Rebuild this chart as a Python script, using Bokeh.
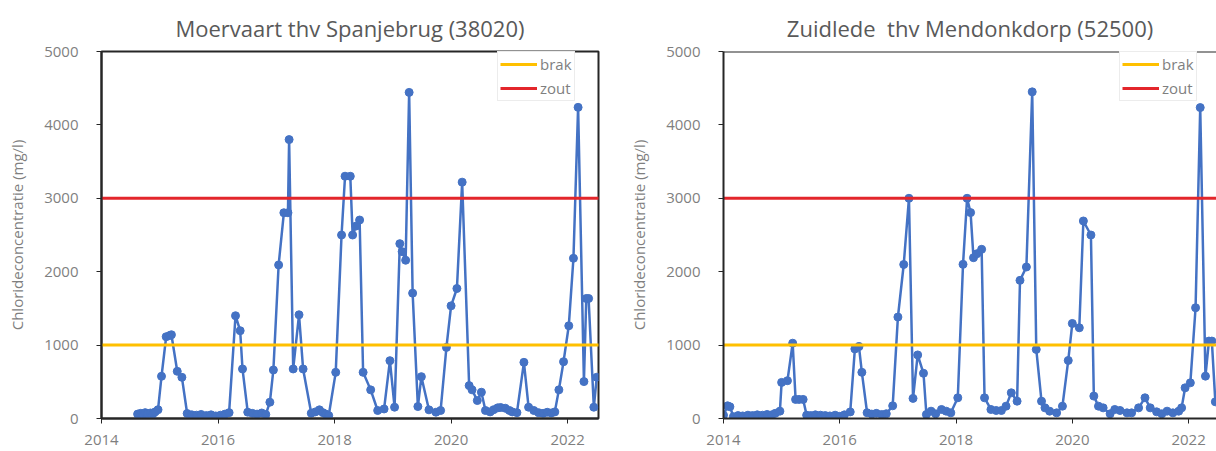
from bokeh.plotting import figure
from bokeh.layouts import row
from bokeh.models import Range1d, FixedTicker, Span, Legend, LegendItem, CustomJSTickFormatter
from bokeh.embed import file_html
from bokeh.resources import INLINE

# ---------------- data ----------------
left_title = "Moervaart thv Spanjebrug (38020)"
right_title = "Zuidlede\u00a0 thv Mendonkdorp (52500)"
y_label = "Chlorideconcentratie (mg/l)"

left_years = [2014.62, 2014.67, 2014.71, 2014.75, 2014.79, 2014.84, 2014.88, 2014.92, 2014.97,
              2015.03, 2015.11, 2015.17, 2015.20, 2015.30, 2015.38, 2015.47, 2015.55, 2015.63,
              2015.71, 2015.80, 2015.88, 2015.96, 2016.04, 2016.12, 2016.19, 2016.30, 2016.38,
              2016.42, 2016.51, 2016.59, 2016.67, 2016.75, 2016.82, 2016.89, 2016.95, 2017.04,
              2017.13, 2017.20, 2017.22, 2017.29, 2017.39, 2017.46, 2017.60, 2017.67, 2017.74,
              2017.80, 2017.85, 2017.90, 2018.02, 2018.12, 2018.18, 2018.27, 2018.31, 2018.37,
              2018.43, 2018.49, 2018.62, 2018.74, 2018.85, 2018.95, 2019.03, 2019.12, 2019.16,
              2019.22, 2019.28, 2019.34, 2019.43, 2019.49, 2019.62, 2019.74, 2019.82, 2019.92,
              2020.00, 2020.10, 2020.19, 2020.31, 2020.36, 2020.45, 2020.52, 2020.59, 2020.67,
              2020.73, 2020.80, 2020.85, 2020.93, 2021.00, 2021.05, 2021.13, 2021.25, 2021.33,
              2021.42, 2021.50, 2021.58, 2021.65, 2021.72, 2021.78, 2021.85, 2021.93, 2022.02,
              2022.10, 2022.18, 2022.28, 2022.32, 2022.36, 2022.45, 2022.50]
left_values = [60, 70, 55, 80, 65, 75, 60, 90, 120,
               575, 1114, 1130, 1141, 643, 561, 68, 50, 45,
               55, 40, 50, 35, 45, 60, 80, 1400, 1196,
               675, 86, 70, 60, 75, 55, 222, 661, 2092,
               2803, 2803, 3800, 675, 1413, 675, 72, 90, 118,
               80, 60, 40, 629, 2500, 3301, 3300, 2500, 2622,
               2704, 629, 390, 109, 130, 788, 154, 2382, 2273,
               2156, 4443, 1708, 163, 570, 118, 86, 109, 969,
               1535, 1771, 3220, 448, 390, 245, 358, 109, 90,
               120, 145, 150, 140, 110, 90, 80, 765, 154,
               109, 80, 70, 85, 75, 90, 390, 774, 1263,
               2183, 4239, 503, 1635, 1635, 154, 562]

right_years = [2014.00, 2014.07, 2014.11, 2014.17, 2014.25, 2014.33, 2014.42, 2014.50, 2014.58,
               2014.67, 2014.75, 2014.83, 2014.89, 2014.97, 2015.00, 2015.10, 2015.19, 2015.24,
               2015.30, 2015.37, 2015.43, 2015.50, 2015.58, 2015.67, 2015.75, 2015.83, 2015.92,
               2016.00, 2016.08, 2016.18, 2016.26, 2016.33, 2016.38, 2016.47, 2016.55, 2016.63,
               2016.72, 2016.80, 2016.91, 2017.00, 2017.10, 2017.19, 2017.26, 2017.34, 2017.44,
               2017.49, 2017.57, 2017.65, 2017.75, 2017.83, 2017.91, 2018.03, 2018.12, 2018.19,
               2018.25, 2018.30, 2018.36, 2018.44, 2018.49, 2018.60, 2018.69, 2018.78, 2018.86,
               2018.95, 2019.05, 2019.10, 2019.21, 2019.31, 2019.38, 2019.47, 2019.53, 2019.61,
               2019.73, 2019.83, 2019.93, 2020.00, 2020.12, 2020.19, 2020.32, 2020.37, 2020.45,
               2020.53, 2020.65, 2020.73, 2020.82, 2020.94, 2021.02, 2021.14, 2021.25, 2021.34,
               2021.45, 2021.54, 2021.63, 2021.73, 2021.83, 2021.88, 2021.94, 2022.03, 2022.12,
               2022.20, 2022.29, 2022.35, 2022.40, 2022.46]
right_values = [45, 173, 160, 25, 40, 35, 45, 40, 50,
                45, 55, 50, 70, 100, 492, 515, 1026, 260,
                260, 260, 45, 40, 50, 45, 40, 35, 45,
                30, 50, 90, 948, 980, 629, 78, 60, 70,
                55, 65, 173, 1382, 2098, 3000, 274, 866, 616,
                55, 100, 64, 123, 100, 77, 282, 2100, 3000,
                2805, 2191, 2245, 2305, 282, 123, 109, 109, 168,
                350, 236, 1882, 2064, 4450, 941, 236, 145, 100,
                77, 168, 791, 1295, 1236, 2691, 2500, 305, 168,
                145, 64, 123, 109, 77, 77, 145, 282, 145,
                91, 64, 100, 77, 100, 145, 418, 486, 1509,
                4236, 577, 1055, 1055, 227]

threshold_names = ["brak", "zout"]
threshold_values = [1000, 3000]
threshold_colors = ["#FFC000", "#E3262B"]

x_ticks = [2014, 2016, 2018, 2020, 2022]
y_ticks = [0, 1000, 2000, 3000, 4000, 5000]

SERIES = "#4472C4"
DARK = "#262626"
FONT = "Open Sans"


def make_chart(title, years, values, x_end, width, border_left, border_right, full_outline):
    p = figure(width=width, height=451, output_backend="svg", toolbar_location=None,
               x_range=Range1d(2014, x_end), y_range=Range1d(0, 5000),
               min_border_left=border_left, min_border_right=border_right,
               min_border_top=51, min_border_bottom=33, title=title)
    p.title.align = "center"
    p.title.text_font = FONT
    p.title.text_font_size = "22px"
    p.title.text_font_style = "normal"
    p.title.text_color = "#595959"
    p.title.standoff = 18
    p.background_fill_color = "white"
    p.border_fill_color = "white"
    p.xgrid.visible = False
    p.ygrid.visible = False
    if full_outline:
        p.outline_line_color = DARK
        p.outline_line_width = 2
        p.outline_line_alpha = 1
    else:
        p.outline_line_color = None
        p.add_layout(Span(location=5000, dimension="width", line_color=DARK, line_width=2))

    for ax in (p.xaxis[0], p.yaxis[0]):
        ax.axis_line_color = DARK
        ax.axis_line_width = 2
        ax.major_tick_line_color = DARK
        ax.major_tick_out = 5
        ax.major_tick_in = 0
        ax.minor_tick_line_color = None
        ax.major_label_text_font = FONT
        ax.major_label_text_font_size = "15px"
        ax.major_label_text_color = "#7F7F7F"

    p.xaxis[0].ticker = FixedTicker(ticks=x_ticks)
    p.xaxis[0].formatter = CustomJSTickFormatter(code="return tick.toFixed(0);")
    p.xaxis[0].major_label_standoff = 11
    p.yaxis[0].ticker = FixedTicker(ticks=y_ticks)
    p.yaxis[0].formatter = CustomJSTickFormatter(code="return tick.toFixed(0);")
    p.yaxis[0].major_label_standoff = 18
    p.yaxis[0].axis_label = y_label
    p.yaxis[0].axis_label_text_font = FONT
    p.yaxis[0].axis_label_text_font_size = "15px"
    p.yaxis[0].axis_label_text_font_style = "normal"
    p.yaxis[0].axis_label_text_color = "#7F7F7F"
    p.yaxis[0].axis_label_standoff = 14

    p.line(years, values, line_color=SERIES, line_width=2.5)
    p.scatter(years, values, size=8, fill_color=SERIES, line_color=SERIES)

    items = []
    for name, val, col in zip(threshold_names, threshold_values, threshold_colors):
        r = p.line([2013, 2024], [val, val], line_color=col, line_width=3)
        items.append(LegendItem(label=name, renderers=[r]))

    legend = Legend(items=items, location=(396, 317))
    legend.border_line_color = "#D9D9D9"
    legend.border_line_width = 1
    legend.background_fill_color = "white"
    legend.background_fill_alpha = 1
    legend.padding = 2
    legend.spacing = 4
    legend.margin = 0
    legend.glyph_width = 37
    legend.glyph_height = 18
    legend.label_height = 18
    legend.label_standoff = 3
    legend.label_text_font = FONT
    legend.label_text_font_size = "15px"
    legend.label_text_color = "#7F7F7F"
    p.add_layout(legend)
    return p


left = make_chart(left_title, left_years, left_values, 2022.53, 606, 101, 8, True)
right = make_chart(right_title, right_years, right_values, 2022.48, 610, 117, 0, False)

layout = row(left, right)
open("out.html", "w").write(file_html(layout, INLINE))
